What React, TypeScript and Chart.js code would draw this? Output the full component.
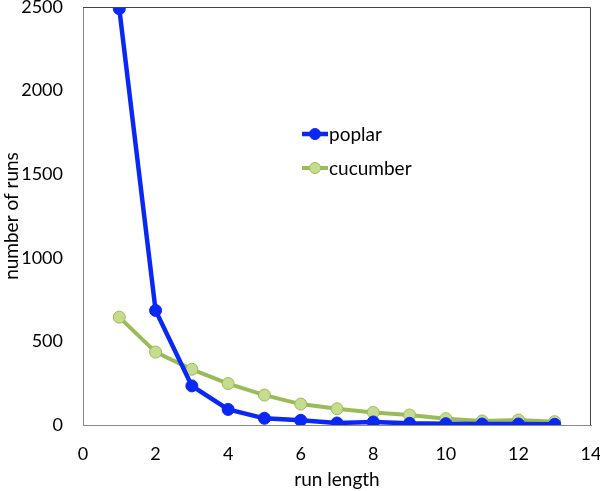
import React, { useEffect, useRef } from "react";
import { Chart, registerables } from "chart.js";

Chart.register(...registerables);

const runLengths = [1, 2, 3, 4, 5, 6, 7, 8, 9, 10, 11, 12, 13];
const poplar = [2490, 685, 234, 93, 40, 28, 12, 18, 10, 8, 6, 6, 4];
const cucumber = [645, 436, 333, 248, 179, 125, 97, 75, 60, 38, 24, 30, 20];
const seriesNames = ["poplar", "cucumber"];
const xTitle = "run length";
const yTitle = "number of runs";

const FONT = "Lato, 'Open Sans', sans-serif";
const BLUE = "#0a28f5";
const GREEN = "#9bbb59";
const GREEN_FILL = "#c5dc8e";

const frame = {
  id: "frame",
  afterDraw(chart: any) {
    const { ctx, chartArea: a } = chart;
    ctx.save();
    ctx.strokeStyle = "#444";
    ctx.lineWidth = 1;
    ctx.beginPath();
    ctx.moveTo(a.left, a.top + 0.5);
    ctx.lineTo(a.right - 0.5, a.top + 0.5);
    ctx.lineTo(a.right - 0.5, a.bottom);
    ctx.stroke();
    ctx.restore();
  },
};

const insideLegend = {
  id: "insideLegend",
  afterDraw(chart: any) {
    const { ctx } = chart;
    const items = [
      { name: seriesNames[0], color: BLUE, fill: BLUE, lw: 4.5, y: 134 },
      { name: seriesNames[1], color: GREEN, fill: GREEN_FILL, lw: 4, y: 168 },
    ];
    ctx.save();
    for (const it of items) {
      ctx.strokeStyle = it.color;
      ctx.lineWidth = it.lw;
      ctx.beginPath();
      ctx.moveTo(302, it.y);
      ctx.lineTo(328, it.y);
      ctx.stroke();
      ctx.beginPath();
      ctx.arc(315, it.y, 5.5, 0, Math.PI * 2);
      ctx.fillStyle = it.fill;
      ctx.fill();
      ctx.lineWidth = 1;
      ctx.strokeStyle = it.color;
      ctx.stroke();
      ctx.fillStyle = "#000";
      ctx.font = `19px ${FONT}`;
      ctx.textBaseline = "middle";
      ctx.textAlign = "left";
      ctx.fillText(it.name, 329, it.y + 1);
    }
    ctx.restore();
  },
};

export default function App() {
  const ref = useRef<HTMLCanvasElement>(null);
  useEffect(() => {
    document.body.style.margin = "0";
    const chart = new Chart(ref.current!, {
      type: "line",
      data: {
        datasets: [
          {
            label: seriesNames[0],
            data: runLengths.map((x, i) => ({ x, y: poplar[i] })),
            borderColor: BLUE,
            backgroundColor: BLUE,
            borderWidth: 4.5,
            pointRadius: 6,
            pointBorderWidth: 1,
            pointBorderColor: BLUE,
            pointBackgroundColor: BLUE,
            tension: 0,
          },
          {
            label: seriesNames[1],
            data: runLengths.map((x, i) => ({ x, y: cucumber[i] })),
            borderColor: GREEN,
            backgroundColor: GREEN_FILL,
            borderWidth: 4,
            pointRadius: 6,
            pointBorderWidth: 1,
            pointBorderColor: GREEN,
            pointBackgroundColor: GREEN_FILL,
            tension: 0,
          },
        ],
      },
      options: {
        animation: false,
        responsive: false,
        layout: { padding: { top: 5, right: 9, left: 0, bottom: 0 } },
        plugins: { legend: { display: false }, tooltip: { enabled: false } },
        scales: {
          x: {
            type: "linear",
            min: 0,
            max: 14,
            grid: { display: false, drawTicks: false },
            border: { display: true, color: "#888", width: 1 },
            ticks: { stepSize: 2, color: "#000", font: { family: FONT, size: 18 }, padding: 18 },
            title: { display: true, text: xTitle, color: "#000", font: { family: FONT, size: 19 }, padding: { top: 2, bottom: 0 } },
            afterFit: (s: any) => { s.height = 66; s.paddingLeft = 0; s.paddingRight = 0; },
          },
          y: {
            type: "linear",
            min: 0,
            max: 2500,
            grid: { display: false, drawTicks: false },
            border: { display: true, color: "#888", width: 1 },
            ticks: {
              stepSize: 500,
              color: "#000",
              font: { family: FONT, size: 18 },
              padding: 20,
              callback: (v: any) => String(v),
            },
            title: { display: true, text: yTitle, color: "#000", font: { family: FONT, size: 19 }, padding: { top: 0, bottom: 4 } },
            afterFit: (s: any) => { s.width = 83; s.paddingTop = 0; s.paddingBottom = 0; },
          },
        },
      },
      plugins: [frame, insideLegend],
    });
    return () => chart.destroy();
  }, []);
  return <canvas ref={ref} width={600} height={491} style={{ display: "block" }} />;
}
